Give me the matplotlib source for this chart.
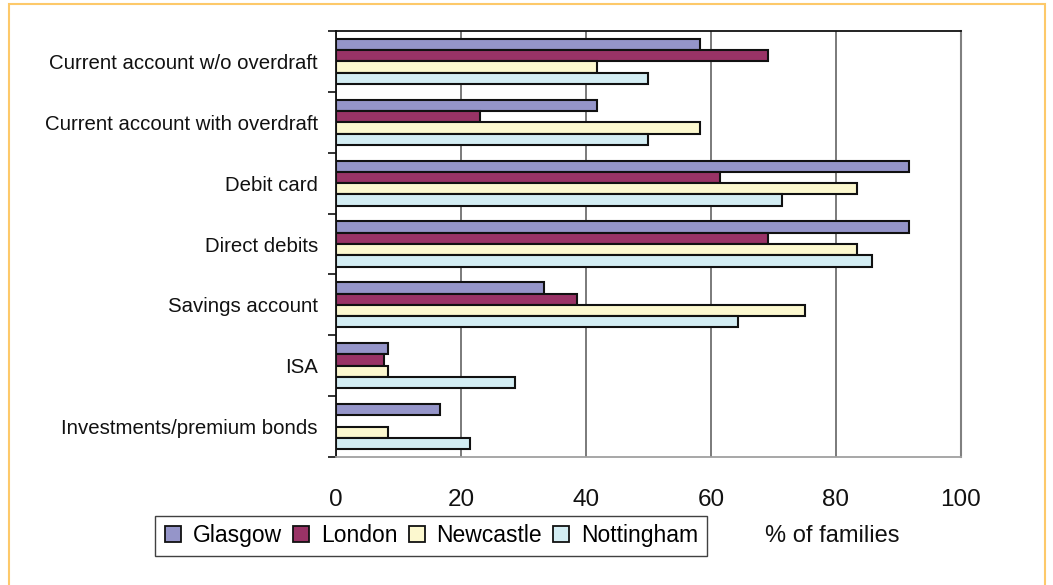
import numpy as np
import matplotlib.pyplot as plt
from matplotlib.patches import Rectangle
from matplotlib.lines import Line2D

categories = [
    "Current account w/o overdraft",
    "Current account with overdraft",
    "Debit card",
    "Direct debits",
    "Savings account",
    "ISA",
    "Investments/premium bonds",
]
cities = ["Glasgow", "London", "Newcastle", "Nottingham"]

glasgow = [58.3, 41.7, 91.7, 91.7, 33.3, 8.3, 16.7]
london = [69.2, 23.1, 61.5, 69.2, 38.5, 7.7, 0.0]
newcastle = [41.7, 58.3, 83.3, 83.3, 75.0, 8.3, 8.3]
nottingham = [50.0, 50.0, 71.4, 85.7, 64.3, 28.6, 21.4]

colors = ["#9595C9", "#993366", "#FCF8CF", "#D3EDF3"]
series = [glasgow, london, newcastle, nottingham]

plt.rcParams["font.family"] = ["Liberation Sans", "DejaVu Sans"]

fig = plt.figure(figsize=(10.53, 5.85), dpi=100)
ax = fig.add_axes([0.3191, 0.2188, 0.5935, 0.7282])

n = len(categories)
y = np.arange(n)
h = 0.185
for i, (vals, c) in enumerate(zip(series, colors)):
    ax.barh(y + (i - 1.5) * h, vals, height=h, color=c,
            edgecolor="#111111", linewidth=1.5, label=cities[i], zorder=3)

ax.set_xlim(0, 100)
ax.set_ylim(n - 0.5, -0.5)
ax.set_xticks([0, 20, 40, 60, 80, 100])
ax.set_xticklabels(["0", "20", "40", "60", "80", "100"], fontsize=17.5)
ax.tick_params(axis="x", length=0, pad=23, colors="#111111")
ax.grid(axis="x", color="#707070", linewidth=1.3, zorder=0)

ax.set_yticks(y)
ax.set_yticklabels(categories, fontsize=14.7)
ax.tick_params(axis="y", which="major", length=0, pad=13, colors="#111111")
ax.set_yticks(np.arange(n + 1) - 0.5, minor=True)
ax.tick_params(axis="y", which="minor", length=6, width=1.2, color="#111111")

ax.spines["left"].set_color("#111111")
ax.spines["left"].set_linewidth(1.3)
ax.spines["top"].set_color("#111111")
ax.spines["top"].set_linewidth(1.3)
ax.spines["right"].set_color("#808080")
ax.spines["right"].set_linewidth(1.5)
ax.spines["bottom"].set_color("#a0a0a0")
ax.spines["bottom"].set_linewidth(1.3)

handles = [Line2D([], [], marker="s", linestyle="none", markersize=11.5,
                  markerfacecolor=c, markeredgecolor="#111111",
                  markeredgewidth=1.3) for c in colors]
leg = fig.legend(handles, cities, loc="center", bbox_to_anchor=(0.4093, 0.0838),
                 ncol=4, fontsize=16.5, frameon=True, fancybox=False,
                 handlelength=0.8, handletextpad=0.45, columnspacing=0.45,
                 borderpad=0.38, borderaxespad=0)
leg.get_frame().set_edgecolor("#111111")
leg.get_frame().set_linewidth(1.0)

fig.text(0.7906, 0.0838, "% of families", fontsize=17, ha="center",
         va="center", color="#111111")

# orange frame round the chart
fig.patches.append(Rectangle((0.0085, -0.05), 0.9840, 1.043,
                             transform=fig.transFigure, fill=False,
                             edgecolor="#FDC96A", linewidth=1.5))

fig.savefig("out.png", dpi=100)
